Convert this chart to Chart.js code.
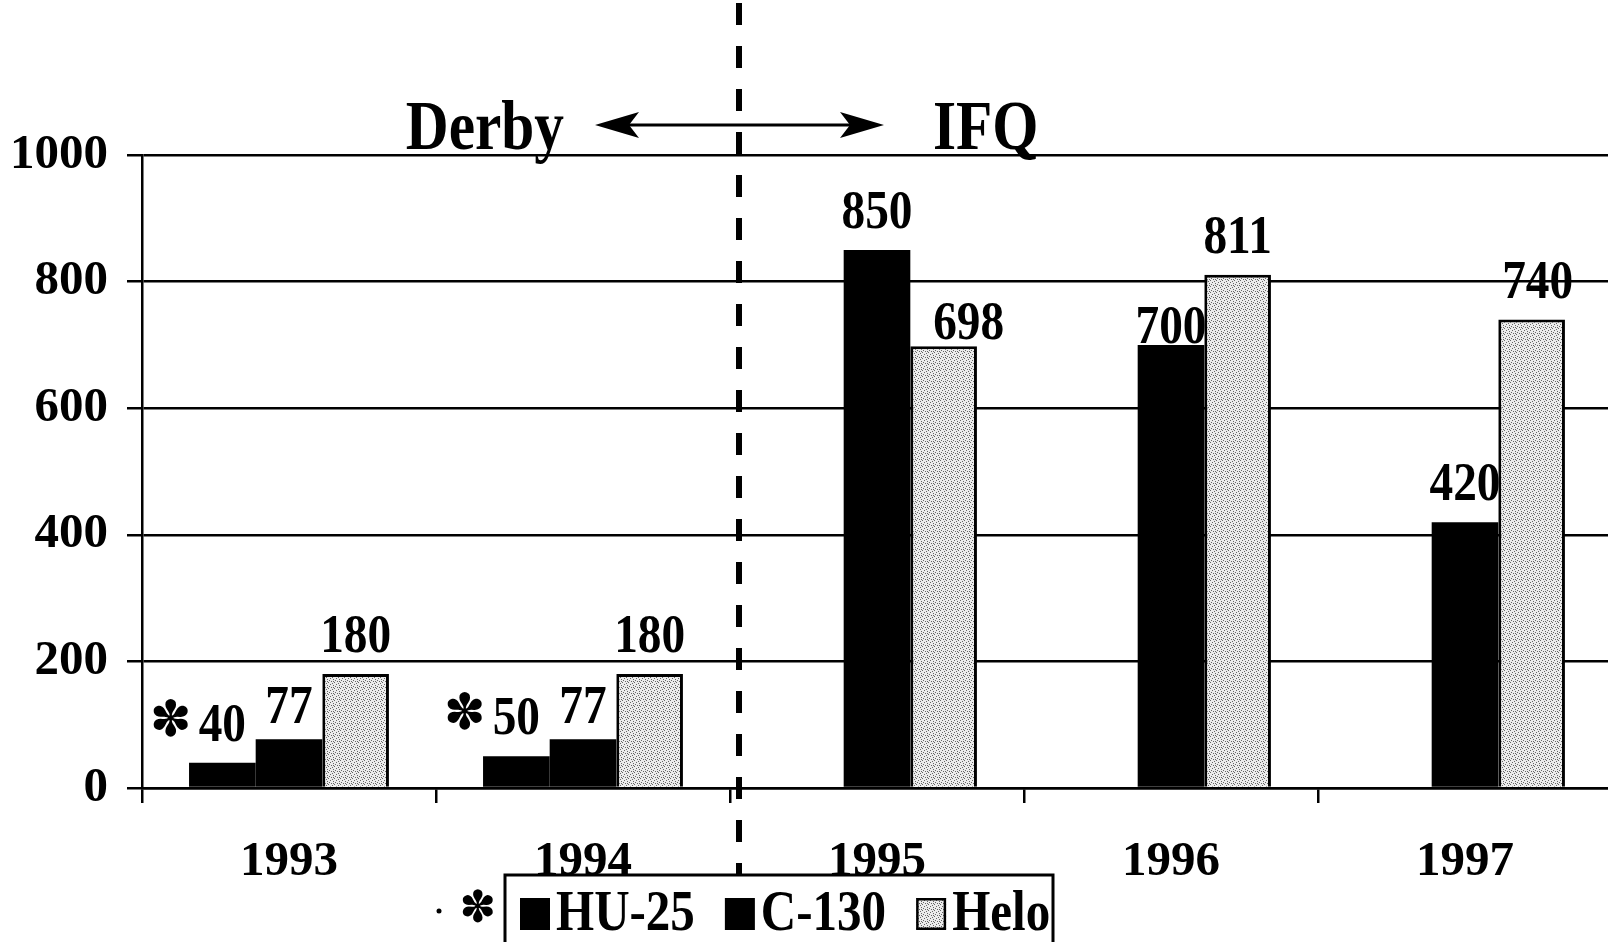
<!DOCTYPE html>
<html>
<head>
<meta charset="utf-8">
<script src="https://cdn.jsdelivr.net/npm/chart.js@4.4.0/dist/chart.umd.min.js"></script>
<style>
  html, body { margin: 0; padding: 0; background: #fff; overflow: hidden; }
  #wrap { width: 1616px; height: 942px; }
</style>
</head>
<body>
<div id="wrap"><canvas id="chart" width="1616" height="942"></canvas></div>
<script>
// data
const years = ['1993', '1994', '1995', '1996', '1997'];
const hu25 = [40, 50, null, null, null];
const c130 = [77, 77, 850, 700, 420];
const helo = [180, 180, 698, 811, 740];
const yTicks = [0, 200, 400, 600, 800, 1000];
const periods = ['Derby', 'IFQ'];
const footMark = '\u273D';

const SERIF = '"Liberation Serif", "Times New Roman", serif';
const SQUEEZE = 0.86;

// stippled grey fill used for the Helo bars
function stipple() {
  const c = document.createElement('canvas');
  c.width = 6; c.height = 6;
  const g = c.getContext('2d');
  g.fillStyle = '#ececec';
  g.fillRect(0, 0, 6, 6);
  g.fillStyle = '#666';
  [[0, 0], [3, 1], [1, 3], [4, 4], [5, 2], [2, 5], [3, 3]].forEach(([x, y]) => g.fillRect(x, y, 1, 1));
  return g.createPattern(c, 'repeat');
}
const heloFill = stipple();

function txt(ctx, s, x, y, size, align) {
  ctx.save();
  ctx.translate(x, y);
  ctx.scale(SQUEEZE, 1);
  ctx.font = `bold ${size}px ${SERIF}`;
  ctx.fillStyle = '#000';
  ctx.textAlign = align || 'center';
  ctx.textBaseline = 'alphabetic';
  ctx.fillText(s, 0, 0);
  const w = ctx.measureText(s).width * SQUEEZE;
  ctx.restore();
  return w;
}

function mark(ctx, x, y, size) {
  ctx.save();
  ctx.font = `${size}px "DejaVu Sans"`;
  ctx.fillStyle = '#000';
  ctx.textAlign = 'center';
  ctx.textBaseline = 'middle';
  ctx.fillText(footMark, x, y);
  ctx.restore();
}

// label tweaks, "dataset-index"
const labelNudge = {
  '1-0': { gap: 16 }, '1-1': { gap: 16 },
  '2-2': { dx: 25, gap: 7 },
  '1-3': { gap: 2 },
  '2-4': { dx: 6 }
};

const valueLabels = {
  id: 'valueLabels',
  afterDatasetsDraw(chart) {
    const ctx = chart.ctx;
    chart.data.datasets.forEach((ds, di) => {
      chart.getDatasetMeta(di).data.forEach((bar, i) => {
        const v = ds.data[i];
        if (v == null) return;
        const n = labelNudge[di + '-' + i] || {};
        const x = bar.x + (n.dx || 0);
        const y = bar.y - (n.gap != null ? n.gap : 22);
        const w = txt(ctx, String(v), x, y, 55, 'center');
        if (di === 0) mark(ctx, x - w / 2 - 28, y - 18, 50);
      });
    });
  }
};

const periodMarks = {
  id: 'periodMarks',
  afterDraw(chart) {
    const ctx = chart.ctx;
    const xs = chart.scales.x;
    const area = chart.chartArea;
    const dx = (xs.getPixelForValue(1) + xs.getPixelForValue(2)) / 2 + 9;
    const legendTop = area.bottom + 87;

    // dashed divider
    ctx.save();
    ctx.strokeStyle = '#000';
    ctx.lineWidth = 6;
    ctx.setLineDash([22, 21]);
    ctx.beginPath();
    ctx.moveTo(dx, 3);
    ctx.lineTo(dx, legendTop);
    ctx.stroke();
    ctx.restore();

    // double arrow
    const ay = area.top - 30;
    const l = dx - 144, r = dx + 145;
    ctx.save();
    ctx.strokeStyle = '#000';
    ctx.lineWidth = 3;
    ctx.beginPath();
    ctx.moveTo(l + 20, ay);
    ctx.lineTo(r - 20, ay);
    ctx.stroke();
    ctx.fillStyle = '#000';
    ctx.beginPath();
    ctx.moveTo(l, ay); ctx.lineTo(l + 44, ay - 13); ctx.lineTo(l + 34, ay); ctx.lineTo(l + 44, ay + 13); ctx.closePath();
    ctx.fill();
    ctx.beginPath();
    ctx.moveTo(r, ay); ctx.lineTo(r - 44, ay - 13); ctx.lineTo(r - 34, ay); ctx.lineTo(r - 44, ay + 13); ctx.closePath();
    ctx.fill();
    ctx.restore();

    txt(ctx, periods[0], dx - 175, area.top - 6, 69, 'right');
    txt(ctx, periods[1], dx + 194, area.top - 6, 69, 'left');

    // legend box
    const bl = dx - 234, br = dx + 314;
    ctx.save();
    ctx.strokeStyle = '#000';
    ctx.lineWidth = 3;
    ctx.beginPath();
    ctx.moveTo(bl, 960); ctx.lineTo(bl, legendTop); ctx.lineTo(br, legendTop); ctx.lineTo(br, 960);
    ctx.stroke();
    ctx.fillStyle = '#000';
    ctx.beginPath();
    ctx.arc(bl - 66, legendTop + 36, 2.5, 0, Math.PI * 2);
    ctx.fill();
    ctx.restore();
    mark(ctx, bl - 27, legendTop + 36, 44);

    let x = bl + 15;
    const base = legendTop + 55;
    chart.data.datasets.forEach(ds => {
      ctx.save();
      ctx.fillStyle = ds.backgroundColor;
      ctx.fillRect(x, base - 32, 30, 32);
      if (ds.borderWidth) {
        ctx.strokeStyle = '#000';
        ctx.lineWidth = 2.5;
        ctx.strokeRect(x + 1.25, base - 30.75, 27.5, 29.5);
      }
      ctx.restore();
      x += 36;
      x += txt(ctx, ds.label, x, base, 57, 'left') + 30;
    });
  }
};

Chart.defaults.font.family = SERIF;
Chart.defaults.font.weight = 'bold';
Chart.defaults.font.size = 49;
Chart.defaults.color = '#000';

new Chart(document.getElementById('chart'), {
  type: 'bar',
  data: {
    labels: years,
    datasets: [
      { label: 'HU-25', data: hu25, backgroundColor: '#000', borderWidth: 0 },
      { label: 'C-130', data: c130, backgroundColor: '#000', borderWidth: 0 },
      { label: 'Helo', data: helo, backgroundColor: heloFill, borderColor: '#000', borderWidth: 3 }
    ]
  },
  options: {
    responsive: false,
    animation: false,
    events: [],
    categoryPercentage: 0.68,
    barPercentage: 1.0,
    layout: { padding: { top: 155, right: 4, bottom: 0, left: 0 } },
    plugins: { legend: { display: false }, tooltip: { enabled: false } },
    scales: {
      x: {
        grid: { offset: true, drawOnChartArea: false, color: '#000', lineWidth: 2.5, tickLength: 15 },
        border: { color: '#000', width: 2.5 },
        ticks: { padding: 30 },
        afterFit(s) { s.height = 154; }
      },
      y: {
        min: 0, max: 1000,
        afterBuildTicks(s) { s.ticks = yTicks.map(v => ({ value: v })); },
        grid: { color: '#000', lineWidth: 2.5, tickLength: 15 },
        border: { color: '#000', width: 2.5 },
        ticks: { padding: 19, callback: v => String(v) },
        afterFit(s) { s.width = 142; }
      }
    }
  },
  plugins: [valueLabels, periodMarks]
});
</script>
</body>
</html>
